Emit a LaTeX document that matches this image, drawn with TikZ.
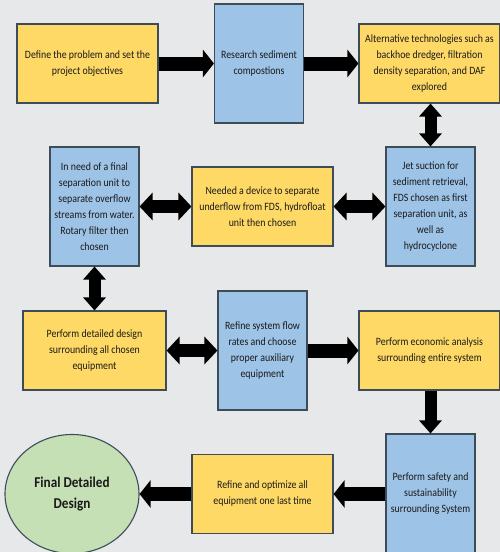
\documentclass[tikz,border=0pt]{standalone}
\usepackage{fontspec}
\setmainfont{Carlito}[FakeStretch=0.88]
\usetikzlibrary{arrows.meta,shapes.geometric}
\definecolor{bgc}{HTML}{E6E8EA}
\definecolor{yelc}{HTML}{FFD966}
\definecolor{bluc}{HTML}{9DC3E6}
\definecolor{grnc}{HTML}{C5E0B4}
\definecolor{edgec}{HTML}{3E4C5A}
\definecolor{txtc}{HTML}{1A1A1A}
\begin{document}
\begin{tikzpicture}[x=1pt,y=-1pt,
  box/.style={draw=edgec, line width=1.1pt, align=center, inner sep=0pt,
    font=\fontsize{11.2}{16}\selectfont, text=txtc},
  yelbox/.style={box, fill=yelc},
  blubox/.style={box, fill=bluc},
  wide/.style={minimum width=141pt, minimum height=79pt},
  tall/.style={minimum width=89pt, minimum height=119pt},
  harrow/.style={line width=14pt, -{Triangle[width=27pt,length=11pt]}},
  darrow/.style={line width=13pt, {Triangle[width=27pt,length=13pt]}-{Triangle[width=27pt,length=13pt]}},
  varrow/.style={line width=12pt, -{Triangle[width=22pt,length=13pt]}},
  vdarrow/.style={line width=12pt, {Triangle[width=22pt,length=13pt]}-{Triangle[width=22pt,length=13pt]}}
]
\clip (0,0) rectangle (500,552);
\fill[bgc] (0,0) rectangle (500,552);

\node[yelbox, wide] (b1) at (87.5,63.5) {Define the problem and set the\\project objectives};
\node[blubox, tall] (b2) at (259,63.5) {Research sediment\\compostions};
\node[yelbox, wide] (b3) at (429.5,63.5) {Alternative technologies such as\\backhoe dredger, filtration\\density separation, and DAF\\explored};

\node[blubox, tall] (b4) at (94.5,206.5) {In need of a final\\separation unit to\\separate overflow\\streams from water.\\Rotary filter then\\chosen};
\node[yelbox, wide] (b5) at (262.5,206.5) {Needed a device to separate\\underflow from FDS, hydrofloat\\unit then chosen};
\node[blubox, tall] (b6) at (430.5,206.5) {Jet suction for\\sediment retrieval,\\FDS chosen as first\\separation unit, as\\well as\\hydrocyclone};

\node[yelbox, minimum width=143pt, minimum height=79pt] (b7) at (94.5,350.5) {Perform detailed design\\surrounding all chosen\\equipment};
\node[blubox, tall] (b8) at (262.5,350.5) {Refine system flow\\rates and choose\\proper auxiliary\\equipment};
\node[yelbox, wide] (b9) at (429.5,350.5) {Perform economic analysis\\surrounding entire system};

\node[blubox, minimum width=89pt, minimum height=120pt] (b10) at (430.5,494) {Perform safety and\\sustainability\\surrounding System};
\node[yelbox, wide] (b11) at (262.5,494) {Refine and optimize all\\equipment one last time};
\node[draw=edgec, line width=1.1pt, fill=grnc, ellipse, inner sep=0pt,
  minimum width=134pt, minimum height=119pt, align=center,
  font=\fontsize{15}{21}\selectfont\bfseries, text=txtc] (fin) at (72,494) {Final Detailed\\Design};

\draw[harrow] (b1) -- (b2);
\draw[harrow] (b2) -- (b3);
\draw[vdarrow] (b3.south -| b6.north) -- (b6.north);
\draw[darrow] (b4) -- (b5);
\draw[darrow] (b5) -- (b6);
\draw[vdarrow] (b4) -- (b7);
\draw[darrow] (b7) -- (b8);
\draw[harrow] (b8) -- (b9);
\draw[varrow] (b9.south -| b10.north) -- (b10.north);
\draw[harrow] (b10) -- (b11);
\draw[harrow] (b11) -- (fin);
\end{tikzpicture}
\end{document}
